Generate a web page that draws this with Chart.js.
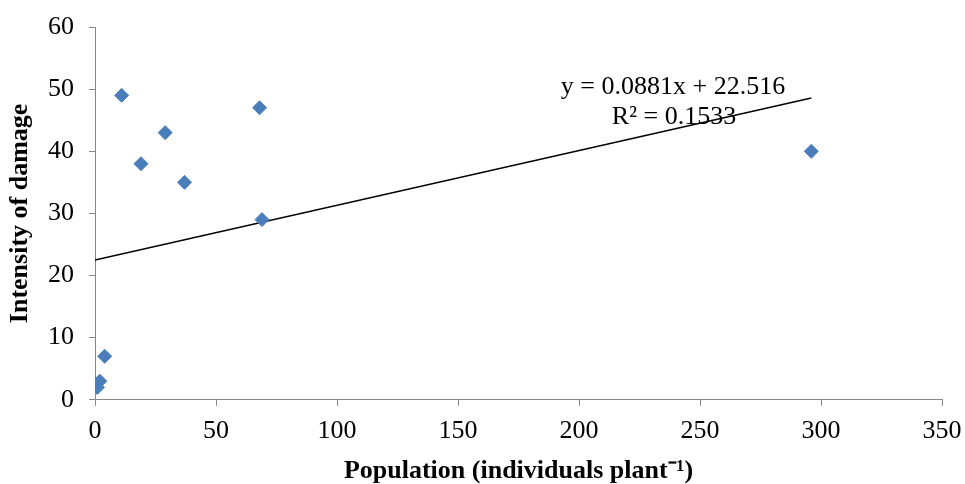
<!DOCTYPE html>
<html>
<head>
<meta charset="utf-8">
<script src="https://cdn.jsdelivr.net/npm/chart.js@4/dist/chart.umd.min.js"></script>
<style>
  html, body { margin: 0; padding: 0; background: #fff; }
  #wrap { width: 965px; height: 484px; }
</style>
</head>
<body>
<div id="wrap"><canvas id="c"></canvas></div>
<script>
  const population = [1, 2, 4, 11, 19, 29, 37, 68, 69, 296];
  const damage = [2, 3, 7, 49, 38, 43, 35, 47, 29, 40];

  // linear trend y = 0.0881x + 22.516, drawn between these ends
  const trendX = [0, 296];
  const trendY = [22.516, 48.59];
  const equationLines = ["y = 0.0881x + 22.516", "R\u00b2 = 0.1533"];

  const xTicks = [0, 50, 100, 150, 200, 250, 300, 350];
  const yTicks = [0, 10, 20, 30, 40, 50, 60];

  const serif = "'Liberation Serif', 'Times New Roman', serif";
  const axisGray = "#868686";

  const equationLabel = {
    id: "equationLabel",
    afterDatasetsDraw(chart) {
      const { ctx } = chart;
      ctx.save();
      ctx.fillStyle = "#000";
      ctx.font = "26px " + serif;
      ctx.textAlign = "center";
      ctx.textBaseline = "middle";
      ctx.fillText(equationLines[0], 673, 87);
      ctx.fillText(equationLines[1], 674, 117);
      ctx.restore();
    },
  };

  new Chart(document.getElementById("c"), {
    type: "scatter",
    data: {
      datasets: [
        {
          label: "Damage",
          data: population.map((x, i) => ({ x, y: damage[i] })),
          pointStyle: "rectRot",
          pointRadius: 7,
          pointHoverRadius: 7,
          backgroundColor: "#4a7ebb",
          borderColor: "#4a7ebb",
          borderWidth: 1,
        },
        {
          label: "Linear",
          type: "line",
          data: trendX.map((x, i) => ({ x, y: trendY[i] })),
          borderColor: "#000",
          borderWidth: 1.5,
          pointRadius: 0,
          fill: false,
        },
      ],
    },
    options: {
      responsive: true,
      maintainAspectRatio: false,
      animation: false,
      layout: { padding: { left: 7, right: 0, top: 0, bottom: 0 } },
      plugins: { legend: { display: false }, tooltip: { enabled: false } },
      scales: {
        x: {
          type: "linear",
          min: 0,
          max: 350,
          afterBuildTicks: (s) => { s.ticks = xTicks.map((v) => ({ value: v })); },
          afterFit: (s) => { s.paddingRight = 23; },
          ticks: { color: "#000", font: { family: serif, size: 26 }, padding: 10 },
          grid: { drawOnChartArea: false, drawTicks: true, tickLength: 6, color: axisGray },
          border: { color: axisGray, width: 1 },
          title: {
            display: true,
            text: "Population (individuals plant\u207b\u00b9)",
            color: "#000",
            font: { family: serif, size: 26, weight: "bold", lineHeight: 1 },
            padding: { top: 1, bottom: 0 },
          },
        },
        y: {
          min: 0,
          max: 60,
          afterBuildTicks: (s) => { s.ticks = yTicks.map((v) => ({ value: v })); },
          afterFit: (s) => { s.paddingTop = 27; },
          ticks: { color: "#000", font: { family: serif, size: 26 }, padding: 15 },
          grid: { drawOnChartArea: false, drawTicks: true, tickLength: 6, color: axisGray },
          border: { color: axisGray, width: 1 },
          title: {
            display: true,
            text: "Intensity of damage",
            color: "#000",
            font: { family: serif, size: 26, weight: "bold", lineHeight: 1 },
            padding: { top: 0, bottom: 0 },
          },
        },
      },
    },
    plugins: [equationLabel],
  });
</script>
</body>
</html>
